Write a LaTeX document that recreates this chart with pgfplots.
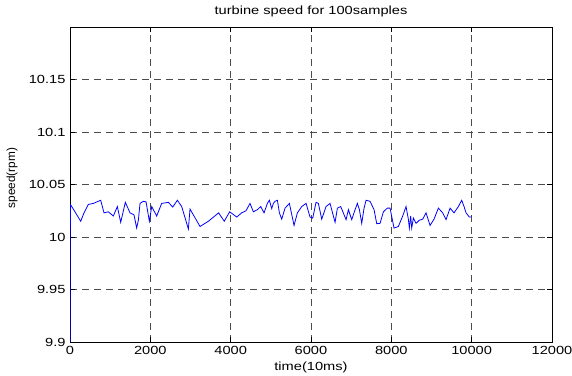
\documentclass[border=0pt]{standalone}
\usepackage{fontspec}
\setmainfont{Liberation Sans}[FakeStretch=1.24]
\newfontfamily\ylabfont{Liberation Sans}
\usepackage{pgfplots}
\pgfplotsset{compat=1.18}
\begin{document}
\begin{tikzpicture}
\useasboundingbox (-70bp,-34bp) rectangle (502bp,342bp);
\begin{axis}[
  at={(0,0)}, anchor=south west,
  scale only axis, width=482bp, height=315bp,
  xmin=0, xmax=12000, ymin=9.9, ymax=10.2,
  scaled x ticks=false, scaled y ticks=false,
  xtick={0,2000,4000,6000,8000,10000,12000},
  xticklabels={0,2000,4000,6000,8000,10000,12000},
  ytick={9.9,9.95,10,10.05,10.1,10.15},
  yticklabels={9.9,9.95,10,10.05,10.1,10.15},
  tick pos=both, tick align=inside, major tick length=5bp,
  tick style={black, line width=0.6bp},
  grid=major,
  major grid style={black!70, dash pattern=on 7bp off 5bp, line width=0.6bp},
  axis line style={black, line width=0.8bp},
  tick label style={font=\fontsize{11.8bp}{13bp}\selectfont},
  xticklabel style={yshift=-1bp},
  yticklabel style={xshift=-1bp},
  title={turbine speed for 100samples},
  title style={at={(axis description cs:0.5,1)}, anchor=base, yshift=7bp, font=\fontsize{11.8bp}{13bp}\selectfont},
  xlabel={time(10ms)},
  xlabel style={at={(axis description cs:0.5,0)}, anchor=base, yshift=-29bp, font=\fontsize{11.8bp}{13bp}\selectfont},
  ylabel={speed(rpm)},
  ylabel style={at={(axis description cs:-0.12,0.52)}, anchor=center, rotate=0, font=\ylabfont\fontsize{11.8bp}{13bp}\selectfont},
]
\addplot[color=blue, line width=0.8bp] coordinates {
(0,9.85) (10,10.031) (124,10.024) (266,10.015) (349,10.023) (456,10.031)
(581,10.032) (764,10.035) (847,10.023) (954,10.024) (1079,10.020) (1179,10.029)
(1262,10.014) (1378,10.033) (1494,10.023) (1594,10.021) (1660,10.0085) (1702,10.016)
(1743,10.032) (1826,10.034) (1893,10.0335) (1976,10.015) (2034,10.029) (2158,10.020)
(2283,10.032) (2449,10.033) (2557,10.0285) (2673,10.035) (2781,10.029) (2947,10.0076)
(2988,10.0266) (3237,10.010) (3445,10.015) (3700,10.023) (3840,10.015) (3975,10.024)
(4150,10.019) (4274,10.023) (4382,10.025) (4482,10.032) (4565,10.024) (4664,10.026)
(4748,10.029) (4831,10.023) (4914,10.032) (4963,10.035) (5022,10.027) (5063,10.032)
(5104,10.034) (5163,10.035) (5213,10.023) (5271,10.017) (5354,10.0275) (5462,10.032)
(5578,10.011) (5661,10.023) (5769,10.029) (5877,10.032) (5976,10.019) (6043,10.018)
(6125,10.033) (6184,10.032) (6267,10.017) (6375,10.029) (6474,10.032) (6599,10.014)
(6657,10.0275) (6740,10.029) (6873,10.0165) (6931,10.026) (7014,10.0165) (7097,10.026)
(7155,10.032) (7205,10.026) (7263,10.013) (7321,10.0275) (7371,10.035) (7470,10.034)
(7570,10.026) (7636,10.0127) (7719,10.013) (7802,10.024) (7900,10.0275) (7968,10.0275)
(8067,10.0085) (8175,10.010) (8283,10.020) (8366,10.029) (8424,10.017) (8449,10.0085)
(8482,10.020) (8507,10.0085) (8549,10.018) (8615,10.013) (8698,10.016) (8781,10.017)
(8864,10.023) (8964,10.011) (9063,10.017) (9171,10.0275) (9279,10.023) (9362,10.0165)
(9462,10.0275) (9561,10.023) (9669,10.029) (9752,10.035) (9810,10.029) (9860,10.023)
(9943,10.019) (10000,10.019)
};
\end{axis}
\end{tikzpicture}
\end{document}
